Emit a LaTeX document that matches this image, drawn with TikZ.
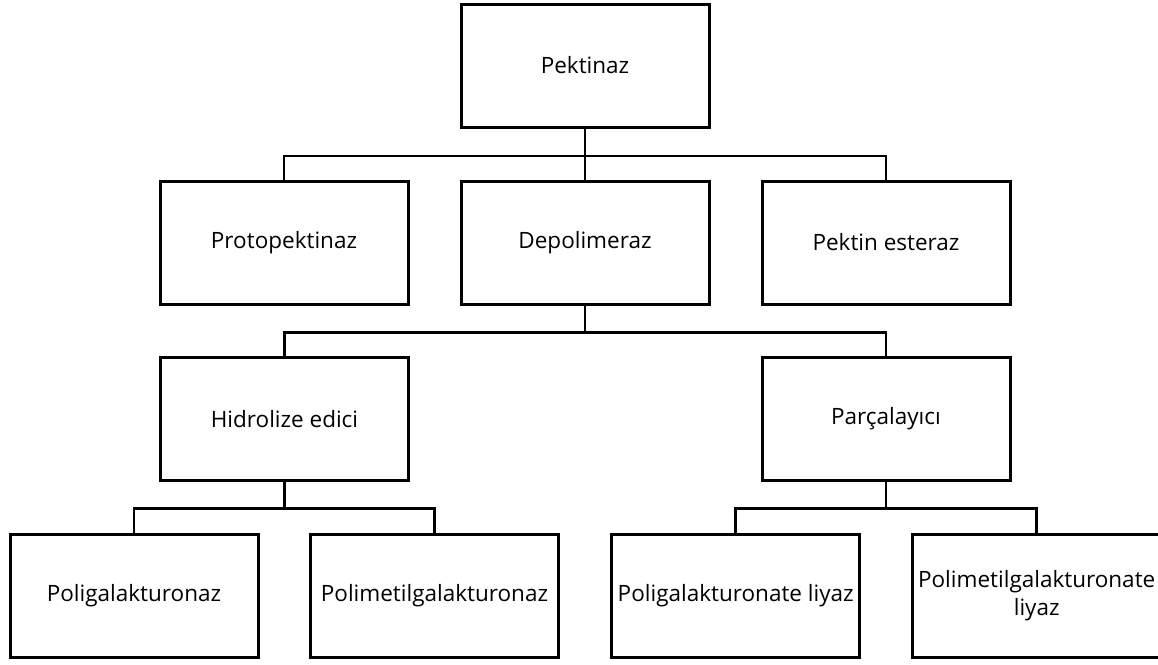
\documentclass[tikz,border=0pt]{standalone}
\usepackage{fontspec}
\setmainfont{Open Sans}
\begin{document}
\begin{tikzpicture}[x=1pt,y=-1pt,
  box/.style={draw=black, line width=3pt, fill=white, minimum width=248pt, minimum height=123pt,
    inner sep=0pt, align=center, font=\fontsize{22.5}{28}\selectfont},
  link/.style={draw=black, line width=2.6pt}]
\useasboundingbox (0,0) rectangle (1158,664);
\clip (0,0) rectangle (1158,664);
\fill[white] (0,0) rectangle (1158,664);

% level 1
\node[box] (pek) at (585,65.5) {Pektinaz};
% level 2
\node[box] (proto) at (284,242.5) {Protopektinaz};
\node[box] (depol) at (585,242.5) {Depolimeraz};
\node[box] (ester) at (886,242.5) {Pektin esteraz};
% level 3
\node[box] (hidro) at (284.5,419) {Hidrolize edici};
\node[box] (parca) at (886,419) {Parçalayıcı};
% level 4
\node[box] (pg) at (134,595.5) {Poligalakturonaz};
\node[box] (pmg) at (434.5,595.5) {Polimetilgalakturonaz};
\node[box] (pgl) at (735.7,595.5) {Poligalakturonate liyaz};
\node[box] (pmgl) at (1036.7,595.5) {Polimetilgalakturonate\\liyaz};

% tree connectors
\foreach \c in {proto,depol,ester}
  \draw[link] (pek.south) -- ++(0,27.5) -| (\c.north);
\foreach \c in {hidro,parca}
  \draw[link] (depol.south) -- ++(0,27) -| (\c.north);
\foreach \c in {pg,pmg}
  \draw[link] (hidro.south) -- ++(0,26.5) -| (\c.north);
\foreach \c in {pgl,pmgl}
  \draw[link] (parca.south) -- ++(0,26.5) -| (\c.north);
\end{tikzpicture}
\end{document}
